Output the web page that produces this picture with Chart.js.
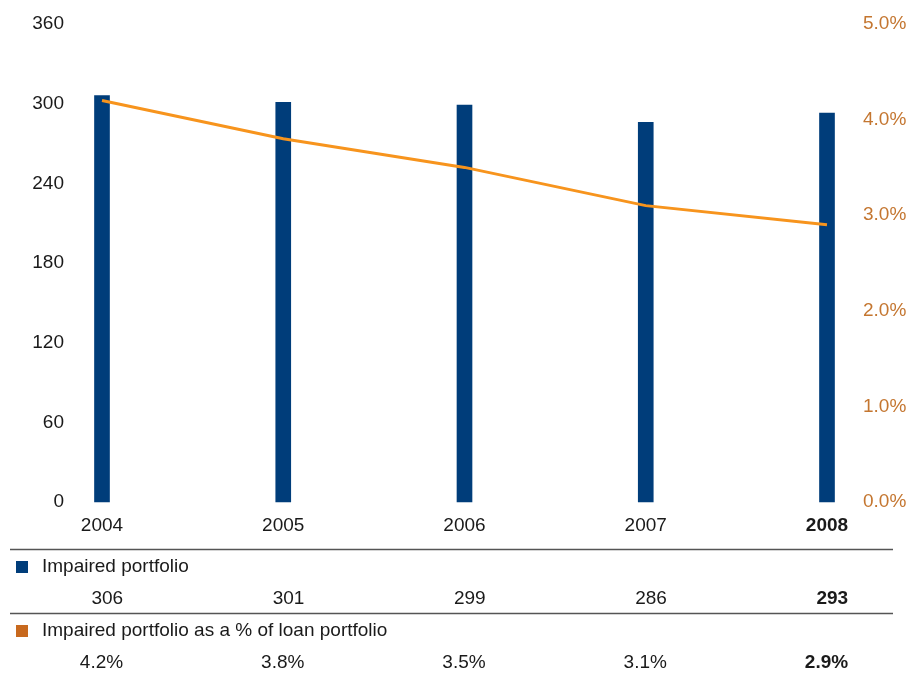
<!DOCTYPE html>
<html>
<head>
<meta charset="utf-8">
<script src="https://cdn.jsdelivr.net/npm/chart.js@4/dist/chart.umd.min.js"></script>
<style>
  html, body { margin: 0; padding: 0; background: #ffffff; }
  #wrap { width: 911px; height: 673px; position: relative; }
</style>
</head>
<body>
<div id="wrap"><canvas id="chart"></canvas></div>
<script>
// Impaired portfolio (amount) and its share of the loan portfolio, 2004-2008
const years = ['2004', '2005', '2006', '2007', '2008'];
const impaired = [306, 301, 299, 286, 293];
const impairedPct = [4.2, 3.8, 3.5, 3.1, 2.9];
const leftTicks = [0, 60, 120, 180, 240, 300, 360];
const rightTicks = [0, 1, 2, 3, 4, 5];

const FONT = '"Liberation Sans", Arial, Helvetica, sans-serif';
const SIZE = 19;
const NAVY = '#003d7a';
const ORANGE_LINE = '#f7941d';
const ORANGE_TEXT = '#c47630';
const ORANGE_BOX = '#c8691e';
const TEXT = '#1a1a1a';
const RULE = '#555555';

// Table under the chart: legend rows with the yearly values in columns
const dataTable = {
  id: 'dataTable',
  afterDraw(chart) {
    const ctx = chart.ctx;
    const xs = chart.scales.x;
    ctx.save();

    const fontOf = bold => (bold ? 'bold ' : '') + SIZE + 'px ' + FONT;
    // right edge of each year label, used to right-align the values
    const rightEdges = years.map((y, i) => {
      ctx.font = fontOf(i === years.length - 1);
      return xs.getPixelForValue(i) + ctx.measureText(y).width / 2;
    });

    const rule = y => {
      ctx.strokeStyle = RULE;
      ctx.lineWidth = 1.5;
      ctx.beginPath();
      ctx.moveTo(10, y);
      ctx.lineTo(893, y);
      ctx.stroke();
    };

    const legendRow = (y, color, label) => {
      ctx.fillStyle = color;
      ctx.fillRect(16, y - 6, 12, 12);
      ctx.fillStyle = TEXT;
      ctx.font = fontOf(false);
      ctx.textAlign = 'left';
      ctx.textBaseline = 'middle';
      ctx.fillText(label, 42, y);
    };

    const valueRow = (y, values) => {
      ctx.textAlign = 'right';
      ctx.textBaseline = 'middle';
      ctx.fillStyle = TEXT;
      values.forEach((v, i) => {
        ctx.font = fontOf(i === values.length - 1);
        ctx.fillText(v, rightEdges[i], y);
      });
    };

    rule(549.5);
    legendRow(567, NAVY, 'Impaired portfolio');
    valueRow(599, impaired.map(String));
    rule(613.5);
    legendRow(631, ORANGE_BOX, 'Impaired portfolio as a % of loan portfolio');
    valueRow(663, impairedPct.map(v => v.toFixed(1) + '%'));

    ctx.restore();
  }
};

// fixed width for a vertical axis; the label padding is not allowed to push the plot down
const fixVertical = width => s => {
  s.width = width;
  s.paddingTop = 0;
  s.paddingBottom = 0;
};

new Chart(document.getElementById('chart'), {
  type: 'bar',
  data: {
    labels: years,
    datasets: [
      {
        type: 'line',
        label: 'Impaired portfolio as a % of loan portfolio',
        data: impairedPct,
        yAxisID: 'y1',
        borderColor: ORANGE_LINE,
        backgroundColor: ORANGE_LINE,
        borderWidth: 3,
        pointRadius: 0,
        tension: 0,
        fill: false,
        clip: false,
        order: 0
      },
      {
        type: 'bar',
        label: 'Impaired portfolio',
        data: impaired,
        yAxisID: 'y',
        backgroundColor: NAVY,
        borderWidth: 0,
        barThickness: 15,
        clip: false,
        order: 1
      }
    ]
  },
  options: {
    responsive: true,
    maintainAspectRatio: false,
    animation: false,
    layout: { padding: { top: 24, left: 0, right: 0, bottom: 131 } },
    plugins: {
      legend: { display: false },
      tooltip: { enabled: false }
    },
    scales: {
      x: {
        offset: false,
        grid: { display: false, drawTicks: false },
        border: { display: false },
        ticks: {
          padding: 12,
          color: TEXT,
          maxRotation: 0,
          font: c => ({ family: FONT, size: SIZE, weight: c.index === years.length - 1 ? 'bold' : 'normal' })
        },
        afterFit: s => { s.height = 40; }
      },
      y: {
        position: 'left',
        min: leftTicks[0],
        max: leftTicks[leftTicks.length - 1],
        grid: { display: false, drawTicks: false },
        border: { display: false },
        afterBuildTicks: s => { s.ticks = leftTicks.map(v => ({ value: v })); },
        ticks: {
          padding: 38,
          color: TEXT,
          font: { family: FONT, size: SIZE },
          callback: v => String(v)
        },
        afterFit: fixVertical(102)
      },
      y1: {
        position: 'right',
        min: rightTicks[0],
        max: rightTicks[rightTicks.length - 1],
        grid: { display: false, drawTicks: false },
        border: { display: false },
        afterBuildTicks: s => { s.ticks = rightTicks.map(v => ({ value: v })); },
        ticks: {
          padding: 36,
          color: ORANGE_TEXT,
          font: { family: FONT, size: SIZE },
          callback: v => Number(v).toFixed(1) + '%'
        },
        afterFit: fixVertical(84)
      }
    }
  },
  plugins: [dataTable]
});
</script>
</body>
</html>
